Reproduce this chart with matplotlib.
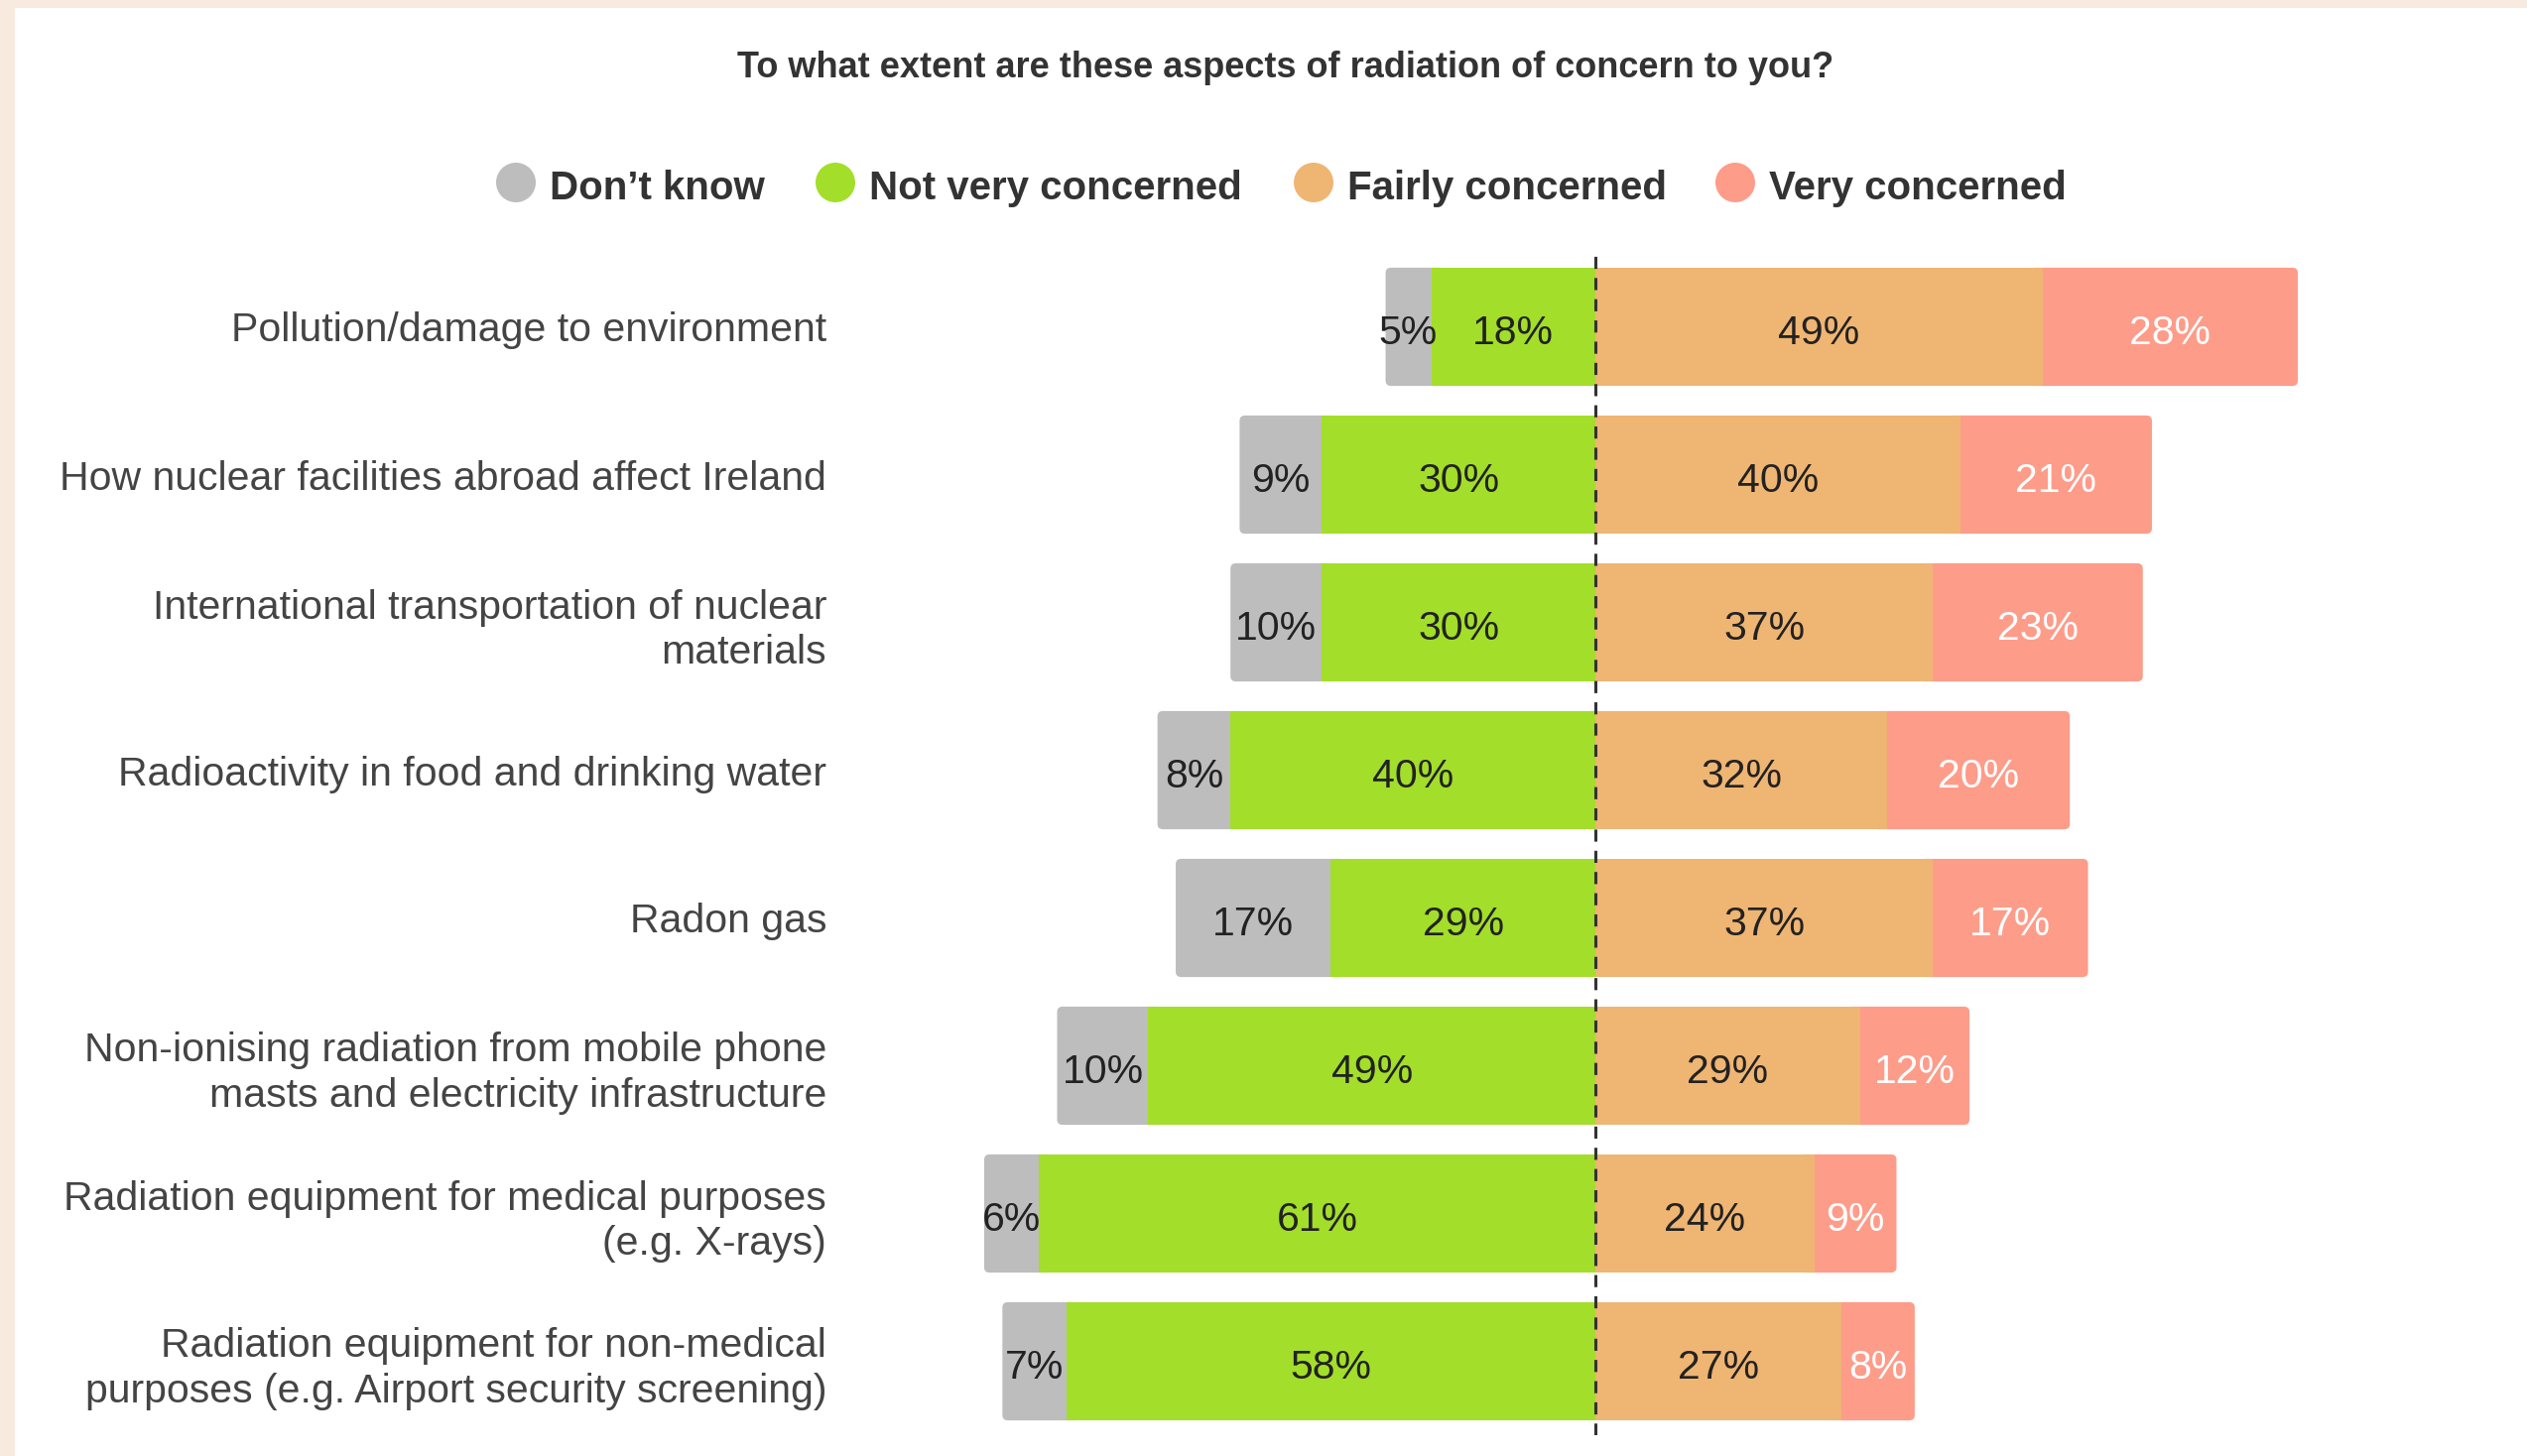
import matplotlib.pyplot as plt
from matplotlib.patches import Ellipse, Rectangle, FancyBboxPatch
import numpy as np

plt.rcParams['font.family'] = ['Liberation Sans', 'DejaVu Sans']

categories = [
    "Pollution/damage to environment",
    "How nuclear facilities abroad affect Ireland",
    "International transportation of nuclear\nmaterials",
    "Radioactivity in food and drinking water",
    "Radon gas",
    "Non-ionising radiation from mobile phone\nmasts and electricity infrastructure",
    "Radiation equipment for medical purposes\n(e.g. X-rays)",
    "Radiation equipment for non-medical\npurposes (e.g. Airport security screening)",
]
series_names = ["Don\u2019t know", "Not very concerned", "Fairly concerned", "Very concerned"]
dont_know = [5, 9, 10, 8, 17, 10, 6, 7]
not_very = [18, 30, 30, 40, 29, 49, 61, 58]
fairly = [49, 40, 37, 32, 37, 29, 24, 27]
very = [28, 21, 23, 20, 17, 12, 9, 8]

colors = ["#bdbdbd", "#a3de2a", "#efb573", "#fe9c8a"]
label_colors = ["#222222", "#222222", "#222222", "#ffffff"]

W, H = 2547, 1468
fig = plt.figure(figsize=(W / 100, H / 100), dpi=100)
fig.patch.set_facecolor("#f8eadf")
# white card with a thin beige strip left and top
fig.patches.append(Rectangle((15 / W, 0), 1, 1 - 8 / H, transform=fig.transFigure,
                             facecolor="white", edgecolor="none", zorder=-5))

ax = fig.add_axes([854 / W, 1 - 1447 / H, (2500 - 854) / W, (1447 - 255) / H])
ax.set_facecolor("none")

y = np.arange(len(categories))
h = 0.8
r = 0.6  # corner radius in percent units


def rounded(x0, width, yc, color):
    # outer segment with rounded corners; the inner side is hidden under the next segment
    p = FancyBboxPatch((x0, yc - h / 2), width, h,
                       boxstyle=f"round,pad=0,rounding_size={r}",
                       mutation_aspect=0.036 / r, facecolor=color, edgecolor="none", zorder=1.5)
    ax.add_patch(p)


for i in range(len(categories)):
    dk, nv, fc, vc = dont_know[i], not_very[i], fairly[i], very[i]
    # negative side: not very concerned next to zero, don't know outside it
    rounded(-nv - dk, dk + 1.5, y[i], colors[0])
    rounded(fc - 1.5, vc + 1.5, y[i], colors[3])
    ax.barh(y[i], nv, left=-nv, height=h, color=colors[1], edgecolor="none", zorder=2)
    ax.barh(y[i], fc, left=0, height=h, color=colors[2], edgecolor="none", zorder=2)
    for start, width, k in [(-nv - dk, dk, 0), (-nv, nv, 1), (0, fc, 2), (fc, vc, 3)]:
        ax.text(start + width / 2, y[i] + 0.02, f"{width}%", ha="center", va="center_baseline",
                fontsize=29.5, color=label_colors[k], zorder=4)

ax.axvline(0, color="#333333", linestyle=(0, (4, 3)), linewidth=2.2, zorder=3)

ax.set_xlim(-82, 97)
ax.set_ylim(len(categories) - 0.5, -0.5)
ax.set_yticks(y)
ax.set_yticklabels(categories, fontsize=29.5, color="#444444", linespacing=1.26)
ax.tick_params(axis="y", length=0, pad=15)
ax.set_xticks([])
for s in ax.spines.values():
    s.set_visible(False)

fig.text(1296 / W, 1 - 68 / H, "To what extent are these aspects of radiation of concern to you?",
         ha="center", va="center", fontsize=26, fontweight="bold", color="#333333")

# legend row
leg_x = [520, 842, 1324, 1749]
for xpos, name, c in zip(leg_x, series_names, colors):
    fig.patches.append(Ellipse((xpos / W, 1 - 184 / H), 40 / W, 40 / H, transform=fig.transFigure,
                               facecolor=c, edgecolor="none"))
    fig.text((xpos + 34) / W, 1 - 186 / H, name, ha="left", va="center_baseline",
             fontsize=29, fontweight="bold", color="#333333")

fig.savefig("out.png", dpi=100)
